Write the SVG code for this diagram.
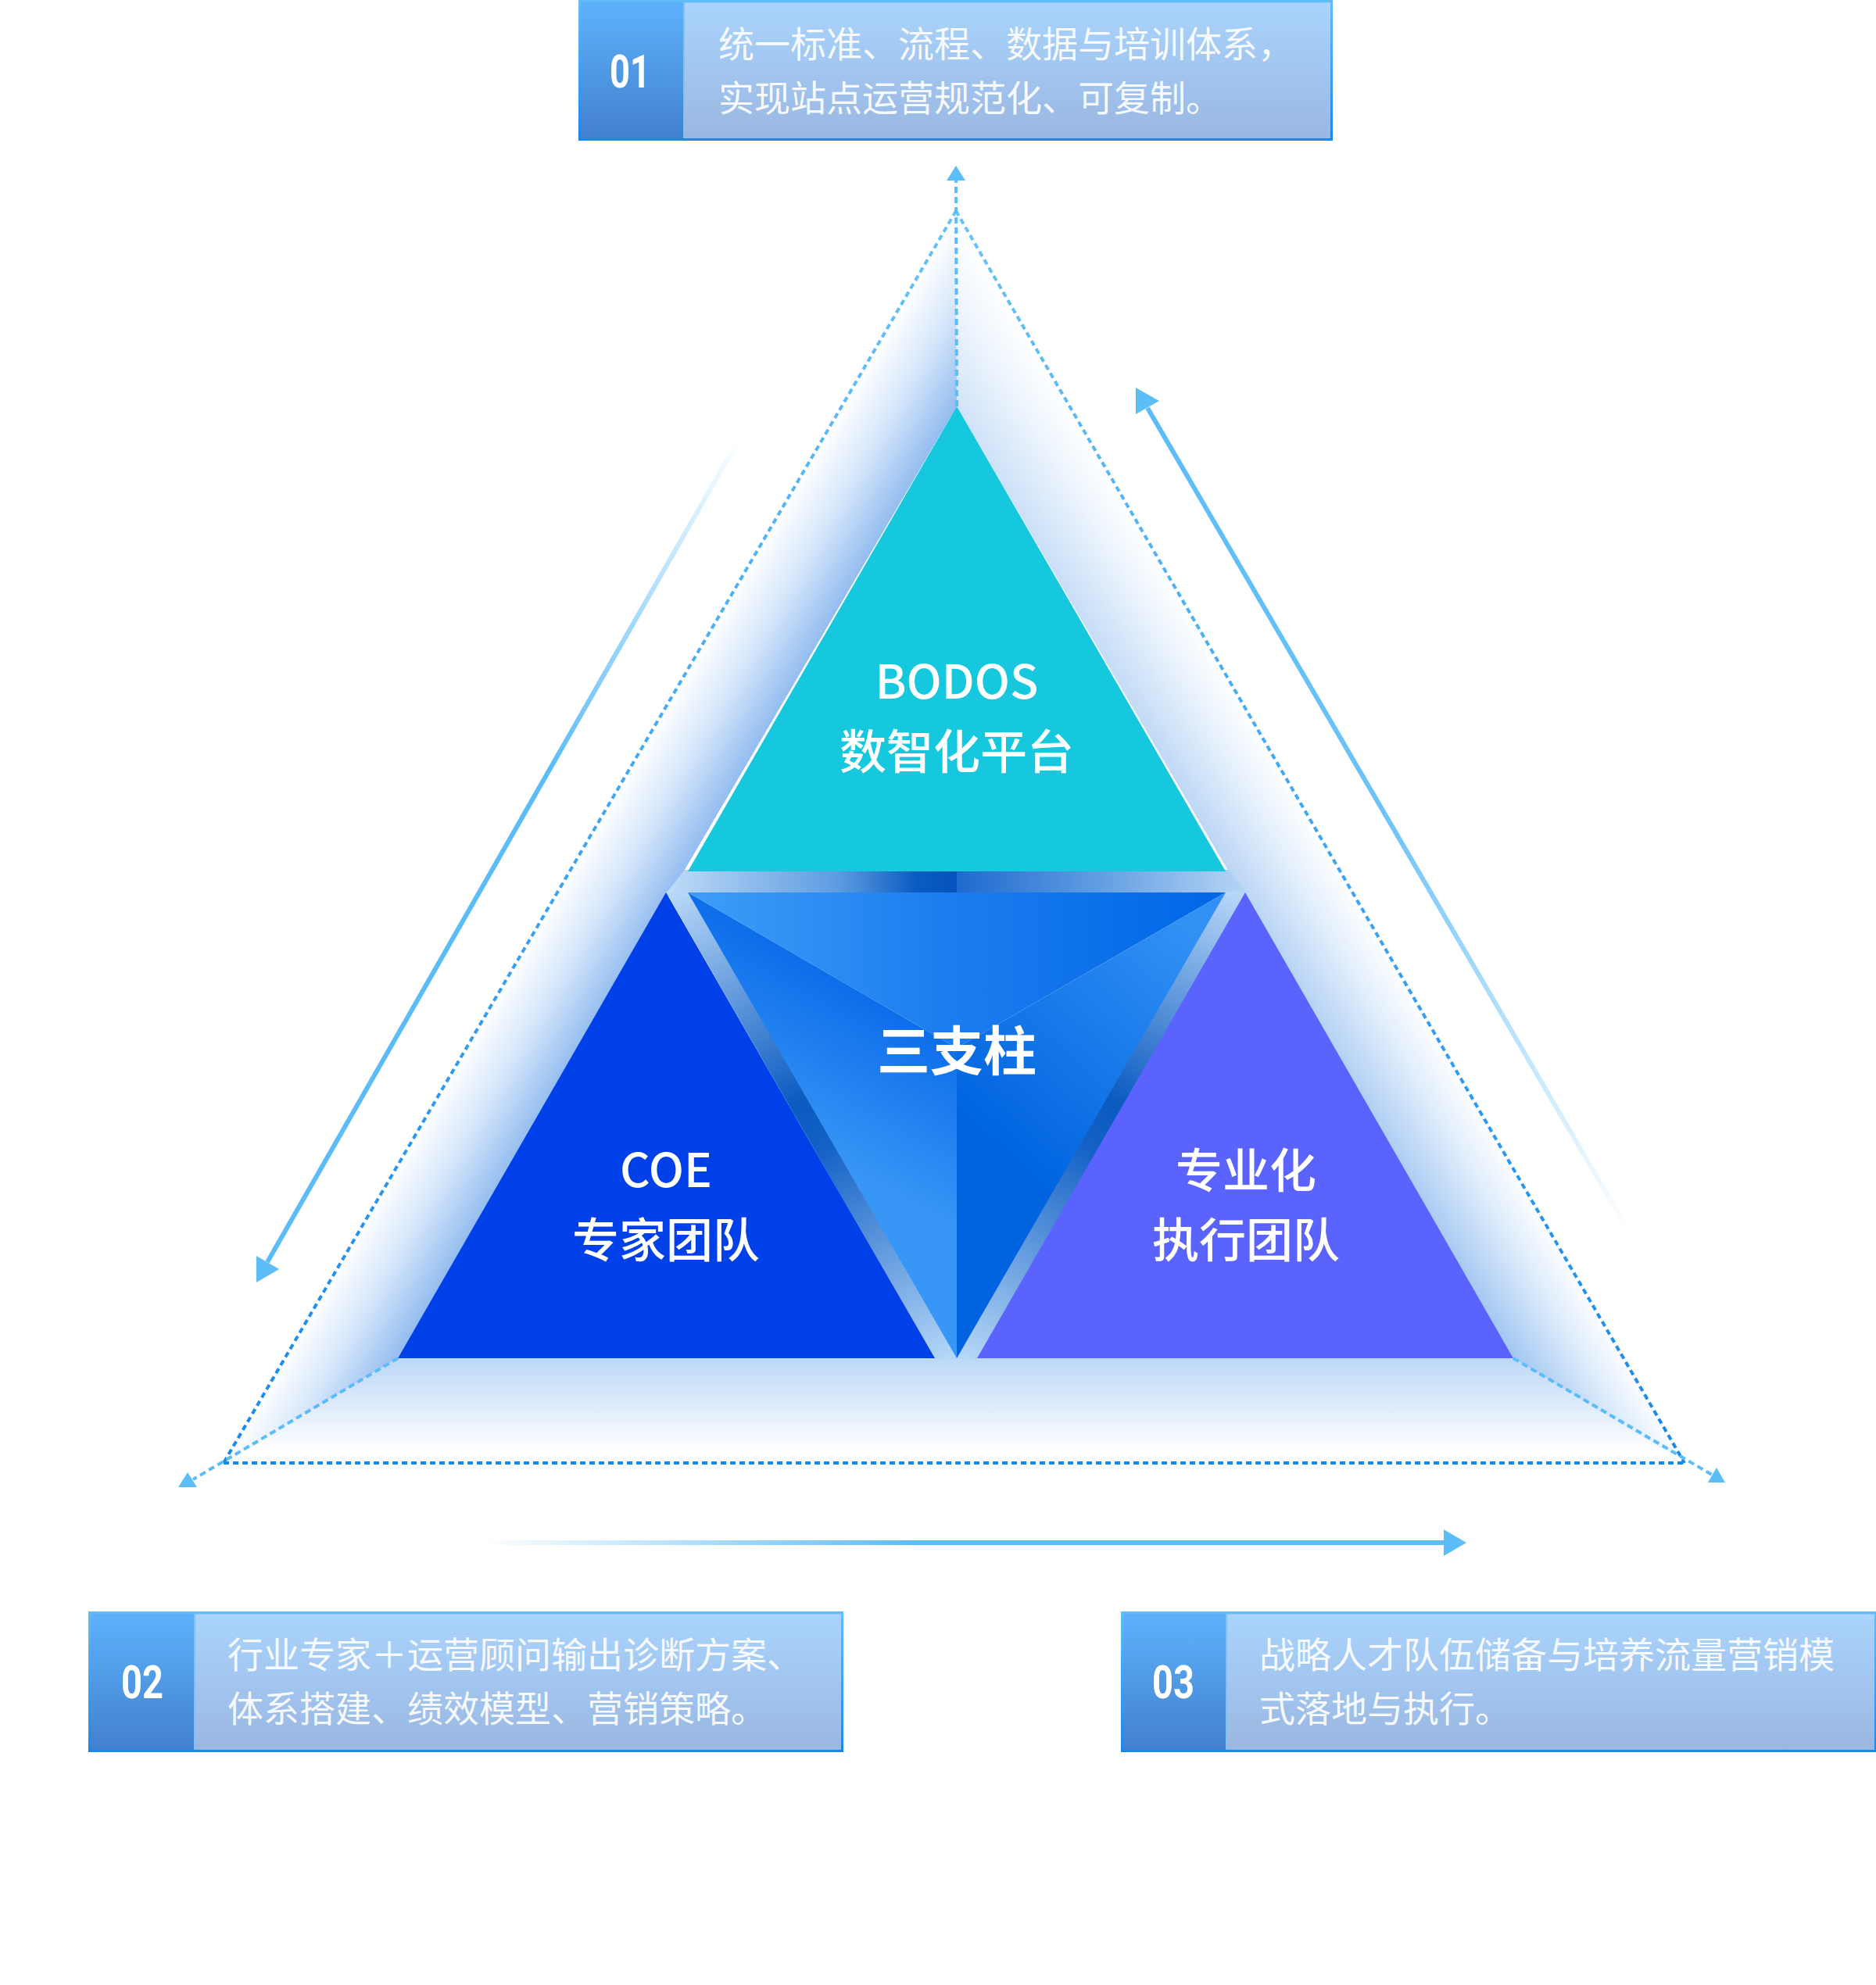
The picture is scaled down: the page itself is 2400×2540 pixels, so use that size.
<svg xmlns="http://www.w3.org/2000/svg" width="2400" height="2540" viewBox="0 0 2400 2540">
<defs>
<style>
.boxtext{font-family:"Noto Sans CJK SC","Noto Sans",sans-serif;font-size:46px;fill:#ffffff;fill-opacity:0.93}
.num{font-family:Roboto,"Liberation Sans",sans-serif;font-weight:700;font-size:60px;fill:#ffffff;text-anchor:middle}
.label{font-family:"Noto Sans CJK SC","Noto Sans",sans-serif;font-size:60px;font-weight:500;fill:#ffffff;text-anchor:middle}
.dots{fill:none;stroke:url(#dotGrad);stroke-width:4;stroke-dasharray:7 5}
.edge{fill:none;stroke:#5cbcf8;stroke-width:4;stroke-dasharray:8 5}
.head{fill:#5cbef9}
.numbg{fill:url(#numGrad)}
.panel{fill:url(#panelGrad);stroke:#7cc2fa;stroke-width:2}
.frame{fill:none;stroke:url(#frameGrad);stroke-width:3}
</style>
<linearGradient id="numGrad" x1="0" y1="0" x2="0" y2="1">
<stop offset="0" stop-color="#5db2fb"/><stop offset="1" stop-color="#4280cf"/>
</linearGradient>
<linearGradient id="panelGrad" x1="0" y1="0" x2="0" y2="1">
<stop offset="0" stop-color="#a9d4fd"/><stop offset="1" stop-color="#9ab7e1"/>
</linearGradient>
<linearGradient id="frameGrad" x1="0" y1="0" x2="0" y2="1">
<stop offset="0" stop-color="#62bcfa"/><stop offset="1" stop-color="#1a86ee"/>
</linearGradient>
<linearGradient id="dotGrad" gradientUnits="userSpaceOnUse" x1="0" y1="270" x2="0" y2="1872">
<stop offset="0" stop-color="#66c2fa"/><stop offset="1" stop-color="#1688ee"/>
</linearGradient>
<linearGradient id="leftFace" gradientUnits="userSpaceOnUse" x1="866" y1="1129" x2="757" y2="1065">
<stop offset="0" stop-color="#94bdf0"/><stop offset="0.55" stop-color="#d8e8fb"/><stop offset="1" stop-color="#ffffff"/>
</linearGradient>
<linearGradient id="rightFace" gradientUnits="userSpaceOnUse" x1="1580" y1="1129" x2="1689" y2="1065">
<stop offset="0" stop-color="#9cc3f1"/><stop offset="0.6" stop-color="#dcebfb"/><stop offset="1" stop-color="#ffffff"/>
</linearGradient>
<linearGradient id="rightVeil" gradientUnits="userSpaceOnUse" x1="1223" y1="270" x2="2155" y2="1872">
<stop offset="0" stop-color="#ffffff" stop-opacity="0.6"/><stop offset="1" stop-color="#ffffff" stop-opacity="0"/>
</linearGradient>
<linearGradient id="bottomFace" gradientUnits="userSpaceOnUse" x1="0" y1="1738" x2="0" y2="1872">
<stop offset="0" stop-color="#bcd8f7"/><stop offset="0.9" stop-color="#ffffff"/>
</linearGradient>
<linearGradient id="topBand" gradientUnits="userSpaceOnUse" x1="852" y1="0" x2="1596" y2="0">
<stop offset="0" stop-color="#c0dcf8"/><stop offset="0.3" stop-color="#5c9ae0"/><stop offset="0.43" stop-color="#0a5cc2"/><stop offset="0.5" stop-color="#0453bc"/><stop offset="0.5" stop-color="#1f6ace"/><stop offset="0.72" stop-color="#5a98e0"/><stop offset="1" stop-color="#b8d6f6"/>
</linearGradient>
<linearGradient id="leftGap" gradientUnits="userSpaceOnUse" x1="866" y1="1142" x2="1210" y2="1738">
<stop offset="0" stop-color="#b8d8f8"/><stop offset="0.45" stop-color="#0a5ac0"/><stop offset="0.55" stop-color="#1462c6"/><stop offset="1" stop-color="#b4d6f6"/>
</linearGradient>
<linearGradient id="rightGap" gradientUnits="userSpaceOnUse" x1="1582" y1="1142" x2="1238" y2="1738">
<stop offset="0" stop-color="#b8d8f8"/><stop offset="0.45" stop-color="#0a5ac0"/><stop offset="0.55" stop-color="#1462c6"/><stop offset="1" stop-color="#b4d6f6"/>
</linearGradient>
<linearGradient id="facetTop" gradientUnits="userSpaceOnUse" x1="880" y1="1142" x2="1568" y2="1142">
<stop offset="0" stop-color="#3e9ef8"/><stop offset="0.5" stop-color="#1a7cee"/><stop offset="1" stop-color="#0066e6"/>
</linearGradient>
<linearGradient id="facetLeft" gradientUnits="userSpaceOnUse" x1="1150" y1="1300" x2="1050" y2="1480">
<stop offset="0" stop-color="#0d6eea"/><stop offset="1" stop-color="#3896f6"/>
</linearGradient>
<linearGradient id="facetRight" gradientUnits="userSpaceOnUse" x1="1500" y1="1180" x2="1260" y2="1450">
<stop offset="0" stop-color="#3090f4"/><stop offset="1" stop-color="#0064e0"/>
</linearGradient>
<linearGradient id="arrowLeft" gradientUnits="userSpaceOnUse" x1="947" y1="559" x2="342" y2="1615">
<stop offset="0" stop-color="#5cbcf8" stop-opacity="0"/><stop offset="0.4" stop-color="#5cbcf8" stop-opacity="1"/><stop offset="1" stop-color="#5cbcf8"/>
</linearGradient>
<linearGradient id="arrowRight" gradientUnits="userSpaceOnUse" x1="1468" y1="522" x2="2081" y2="1571">
<stop offset="0" stop-color="#5cbcf8"/><stop offset="0.5" stop-color="#5cbcf8" stop-opacity="0.9"/><stop offset="1" stop-color="#5cbcf8" stop-opacity="0"/>
</linearGradient>
<linearGradient id="arrowBottom" gradientUnits="userSpaceOnUse" x1="615" y1="0" x2="1847" y2="0">
<stop offset="0" stop-color="#5cbcf8" stop-opacity="0"/><stop offset="0.45" stop-color="#5cbcf8"/><stop offset="1" stop-color="#5cbcf8"/>
</linearGradient>
</defs>

<rect x="0" y="0" width="2400" height="2540" fill="#ffffff"/>

<g id="pyramid-glow">
<polygon points="1223,270 1224,520 509,1738 286,1872" fill="url(#leftFace)"/>
<polygon points="1223,270 2155,1872 1936,1738 1224,520" fill="url(#rightFace)"/>
<polygon points="1223,270 2155,1872 1936,1738 1224,520" fill="url(#rightVeil)"/>
<polygon points="509,1738 1936,1738 2155,1872 286,1872" fill="url(#bottomFace)"/>
</g>

<g id="gaps">
<polygon points="876,1113 1572,1113 1596,1143 852,1143" fill="url(#topBand)"/>
<polygon points="852,1141 882,1141 1226,1739 1196,1739" fill="url(#leftGap)"/>
<polygon points="1566,1141 1596,1141 1252,1739 1222,1739" fill="url(#rightGap)"/>
</g>

<g id="node-bodos">
<polygon points="1224,520 1568,1115 880,1115" fill="#16c8de"/>
<text class="label" x="1224" y="894">BODOS</text>
<text class="label" x="1224" y="984">数智化平台</text>
</g>

<g id="node-coe">
<polygon points="852,1142 1196,1738 509,1738" fill="#0040e8"/>
<text class="label" x="852" y="1519">COE</text>
<text class="label" x="852" y="1609">专家团队</text>
</g>

<g id="node-exec">
<polygon points="1593,1142 1936,1738 1250,1738" fill="#5a63fe"/>
<text class="label" x="1594" y="1520">专业化</text>
<text class="label" x="1594" y="1609">执行团队</text>
</g>

<g id="node-center">
<polygon points="880,1142 1568,1142 1224,1341" fill="url(#facetTop)"/>
<polygon points="880,1142 1224,1341 1224,1738" fill="url(#facetLeft)"/>
<polygon points="1568,1142 1224,1738 1224,1341" fill="url(#facetRight)"/>
<text class="label" x="1224" y="1370" style="font-size:68px;font-weight:700">三支柱</text>
</g>

<g id="connectors">
<line class="dots" x1="1223" y1="270" x2="286" y2="1872"/>
<line class="dots" x1="1223" y1="270" x2="2155" y2="1872"/>
<line class="dots" x1="286" y1="1872" x2="2155" y2="1872"/>
<line class="edge" x1="1224" y1="520" x2="1223" y2="231"/>
<line class="edge" x1="509" y1="1738" x2="247" y2="1893"/>
<line class="edge" x1="1936" y1="1738" x2="2190" y2="1887"/>
<polygon class="head" points="1223,212 1235,231 1211,231"/>
<polygon class="head" points="240,1884 252,1903 228,1903"/>
<polygon class="head" points="2196,1878 2207,1897 2185,1897"/>
<line x1="947" y1="559" x2="342" y2="1615" stroke="url(#arrowLeft)" stroke-width="6"/>
<polygon class="head" points="328,1607 357,1624 328,1641"/>
<line x1="1468" y1="522" x2="2081" y2="1571" stroke="url(#arrowRight)" stroke-width="6"/>
<polygon class="head" points="1453,496 1483,513 1453,530"/>
<line x1="615" y1="1974" x2="1848" y2="1974" stroke="url(#arrowBottom)" stroke-width="6"/>
<polygon class="head" points="1847,1957 1876,1974 1847,1991"/>
</g>

<g id="box-01">
<rect class="numbg" x="741.5" y="1.5" width="133" height="177"/>
<rect class="panel" x="875" y="2.5" width="828" height="175"/>
<rect class="frame" x="741.5" y="1.5" width="962" height="177"/>
<text class="num" x="806" y="112" textLength="52" lengthAdjust="spacingAndGlyphs">01</text>
<text class="boxtext" x="919" y="73">统一标准、流程、数据与培训体系，</text>
<text class="boxtext" x="919" y="142">实现站点运营规范化、可复制。</text>
</g>

<g id="box-02">
<rect class="numbg" x="114.5" y="2063.5" width="134" height="177"/>
<rect class="panel" x="249" y="2064.5" width="828" height="175"/>
<rect class="frame" x="114.5" y="2063.5" width="963" height="177"/>
<text class="num" x="182" y="2173" textLength="54" lengthAdjust="spacingAndGlyphs">02</text>
<text class="boxtext" x="291" y="2134">行业专家＋运营顾问输出诊断方案、</text>
<text class="boxtext" x="291" y="2203">体系搭建、绩效模型、营销策略。</text>
</g>

<g id="box-03">
<rect class="numbg" x="1435.5" y="2063.5" width="133" height="177"/>
<rect class="panel" x="1569" y="2064.5" width="830" height="175"/>
<rect class="frame" x="1435.5" y="2063.5" width="964" height="177"/>
<text class="num" x="1501" y="2173" textLength="54" lengthAdjust="spacingAndGlyphs">03</text>
<text class="boxtext" x="1611" y="2134">战略人才队伍储备与培养流量营销模</text>
<text class="boxtext" x="1611" y="2203">式落地与执行。</text>
</g>
</svg>
